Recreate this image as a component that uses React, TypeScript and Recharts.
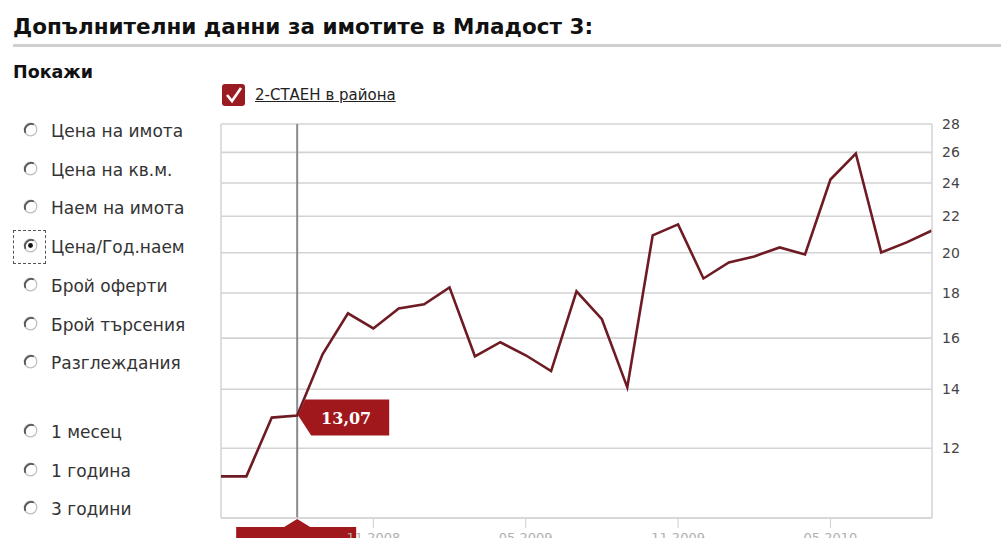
import React from 'react';
import {
  LineChart,
  Line,
  XAxis,
  YAxis,
  CartesianGrid,
  ReferenceLine,
  ReferenceDot,
} from 'recharts';

// monthly periods shown on the x axis (labels are cut off at the bottom of the screenshot)
const periods = [
  '05.2008', '06.2008', '07.2008', '08.2008', '09.2008', '10.2008', '11.2008', '12.2008',
  '01.2009', '02.2009', '03.2009', '04.2009', '05.2009', '06.2009', '07.2009', '08.2009',
  '09.2009', '10.2009', '11.2009', '12.2009', '01.2010', '02.2010', '03.2010', '04.2010',
  '05.2010', '06.2010', '07.2010', '08.2010', '09.2010',
];

// Цена / Год. наем, 2-стаен в района
const priceToRent = [
  11.15, 11.15, 13.0, 13.07, 15.34, 17.07, 16.41, 17.29, 17.48, 18.27,
  15.26, 15.83, 15.3, 14.68, 18.08, 16.81, 14.07, 20.93, 21.54, 18.7,
  19.5, 19.81, 20.28, 19.91, 24.22, 25.92, 20.01, 20.55, 21.2,
];

const yTicks = [12, 14, 16, 18, 20, 22, 24, 26, 28];
const xTickPeriods = [periods[6], periods[12], periods[18], periods[24]];
const activeIndex = 3;

const metricOptions = [
  'Цена на имота',
  'Цена на кв.м.',
  'Наем на имота',
  'Цена/Год.наем',
  'Брой оферти',
  'Брой търсения',
  'Разглеждания',
];
const selectedMetric = 'Цена/Год.наем';
const rangeOptions = ['1 месец', '1 година', '3 години', '5 години'];

const chartData = periods.map((p, i) => ({ period: p, value: priceToRent[i] }));

const FONT = '"DejaVu Sans", Verdana, sans-serif';
const RED = '#a0171c';
const LINE = '#6e1b24';

const Radio = ({ checked }: { checked?: boolean }) => (
  <svg width="15" height="15" viewBox="0 0 15 15" style={{ display: 'block' }}>
    <circle cx="7.5" cy="7.5" r="6.3" fill="#fff" stroke="#bdbdbd" strokeWidth="1.2" />
    <path d="M2.5 10.8 A6.3 6.3 0 0 1 10.8 2.5" fill="none" stroke="#555" strokeWidth="1.8" />
    {checked && <circle cx="7.5" cy="7.5" r="2.4" fill="#111" />}
  </svg>
);

const OptionRow = ({ label, top, checked }: { label: string; top: number; checked?: boolean }) => (
  <div style={{ position: 'absolute', left: 0, top, height: 22 }}>
    {checked && (
      <div
        style={{
          position: 'absolute',
          left: 13,
          top: -7,
          width: 33,
          height: 34,
          border: '1px dashed #555',
          boxSizing: 'border-box',
        }}
      />
    )}
    <div style={{ position: 'absolute', left: 23, top: 1 }}>
      <Radio checked={checked} />
    </div>
    <div
      style={{
        position: 'absolute',
        left: 51,
        top: 0,
        fontFamily: FONT,
        fontSize: 17,
        color: '#333',
        whiteSpace: 'nowrap',
      }}
    >
      {label}
    </div>
  </div>
);

const CrosshairLabel = (props: any) => {
  const vb = props.viewBox || {};
  const x = vb.x;
  const bottom = vb.y + vb.height;
  return (
    <g>
      <polygon
        points={`${x},${bottom + 1} ${x + 13},${bottom + 9} ${x + 59},${bottom + 9} ${x + 59},${bottom + 40} ${x - 61},${bottom + 40} ${x - 61},${bottom + 9} ${x - 13},${bottom + 9}`}
        fill={RED}
      />
      <text x={x} y={bottom + 30} textAnchor="middle" fill="#fff" fontSize={13} fontWeight="bold" fontFamily={FONT}>
        {periods[activeIndex]}
      </text>
    </g>
  );
};

const Callout = (props: any) => {
  const { cx, cy } = props;
  if (cx == null || cy == null) return null;
  const text = priceToRent[activeIndex].toFixed(2).replace('.', ',');
  return (
    <g>
      <polygon
        points={`${cx + 1},${cy} ${cx + 8},${cy - 16} ${cx + 92},${cy - 16} ${cx + 92},${cy + 20} ${cx + 14},${cy + 20}`}
        fill={RED}
      />
      <text
        x={cx + 49}
        y={cy + 8}
        textAnchor="middle"
        fill="#fff"
        fontSize={16}
        fontWeight="bold"
        fontFamily='"DejaVu Serif", Georgia, serif'
      >
        {text}
      </text>
    </g>
  );
};

export default function App() {
  return (
    <div
      style={{
        position: 'fixed',
        left: 0,
        top: 0,
        width: 1001,
        height: 538,
        overflow: 'hidden',
        background: '#fff',
      }}
    >
      <div
        style={{
          position: 'absolute',
          left: 13,
          top: 14,
          fontFamily: FONT,
          fontWeight: 'bold',
          fontSize: 21.5,
          color: '#111',
          whiteSpace: 'nowrap',
        }}
      >
        Допълнителни данни за имотите в Младост 3:
      </div>
      <div style={{ position: 'absolute', left: 13, top: 44, width: 988, height: 3, background: '#d0d0d0' }} />
      <div
        style={{
          position: 'absolute',
          left: 13,
          top: 62,
          fontFamily: FONT,
          fontWeight: 'bold',
          fontSize: 17.5,
          color: '#111',
        }}
      >
        Покажи
      </div>

      {metricOptions.map((m, i) => (
        <OptionRow key={m} label={m} top={121 + i * 38.7} checked={m === selectedMetric} />
      ))}
      {rangeOptions.map((r, i) => (
        <OptionRow key={r} label={r} top={422 + i * 38.7} />
      ))}

      {/* series toggle */}
      <div
        style={{
          position: 'absolute',
          left: 222,
          top: 84,
          width: 23,
          height: 22,
          background: '#9a1c22',
          borderRadius: 3,
        }}
      >
        <svg width="23" height="22" viewBox="0 0 23 22">
          <path d="M5 11 L10 17 L19 4" fill="none" stroke="#fff" strokeWidth="2.6" />
        </svg>
      </div>
      <div
        style={{
          position: 'absolute',
          left: 255,
          top: 86,
          fontFamily: FONT,
          fontSize: 15,
          color: '#222',
          textDecoration: 'underline',
          whiteSpace: 'nowrap',
        }}
      >
        2-СТАЕН в района
      </div>

      <div style={{ position: 'absolute', left: 0, top: 0 }}>
        <LineChart
          width={1001}
          height={560}
          data={chartData}
          margin={{ top: 124, right: 19, left: 221, bottom: 12 }}
        >
          <CartesianGrid vertical={false} stroke="#d3d3d3" strokeWidth={1.6} />
          <XAxis
            dataKey="period"
            ticks={xTickPeriods}
            interval={0}
            height={30}
            tickSize={10}
            tickMargin={5}
            axisLine={{ stroke: '#d6d6d6', strokeWidth: 1.6 }}
            tickLine={{ stroke: '#cfcfcf' }}
            tick={{ fontSize: 13, fill: '#b0b0b0', fontFamily: FONT }}
          />
          <YAxis
            orientation="right"
            type="number"
            scale="log"
            domain={[10, 28]}
            ticks={yTicks}
            width={50}
            tickMargin={4}
            tickLine={false}
            axisLine={{ stroke: '#d6d6d6', strokeWidth: 1.6 }}
            tick={{ fontSize: 14, fill: '#444', fontFamily: FONT }}
          />
          <ReferenceLine x={periods[0]} stroke="#d6d6d6" strokeWidth={1.6} />
          <ReferenceLine
            x={periods[activeIndex]}
            stroke="#8a8a8a"
            strokeWidth={2}
            label={(p: any) => <CrosshairLabel {...p} />}
          />
          <Line
            type="linear"
            dataKey="value"
            stroke={LINE}
            strokeWidth={2.6}
            dot={false}
            activeDot={false}
            isAnimationActive={false}
          />
          <ReferenceDot
            x={periods[activeIndex]}
            y={priceToRent[activeIndex]}
            r={0}
            shape={(p: any) => <Callout {...p} />}
          />
        </LineChart>
      </div>
    </div>
  );
}
